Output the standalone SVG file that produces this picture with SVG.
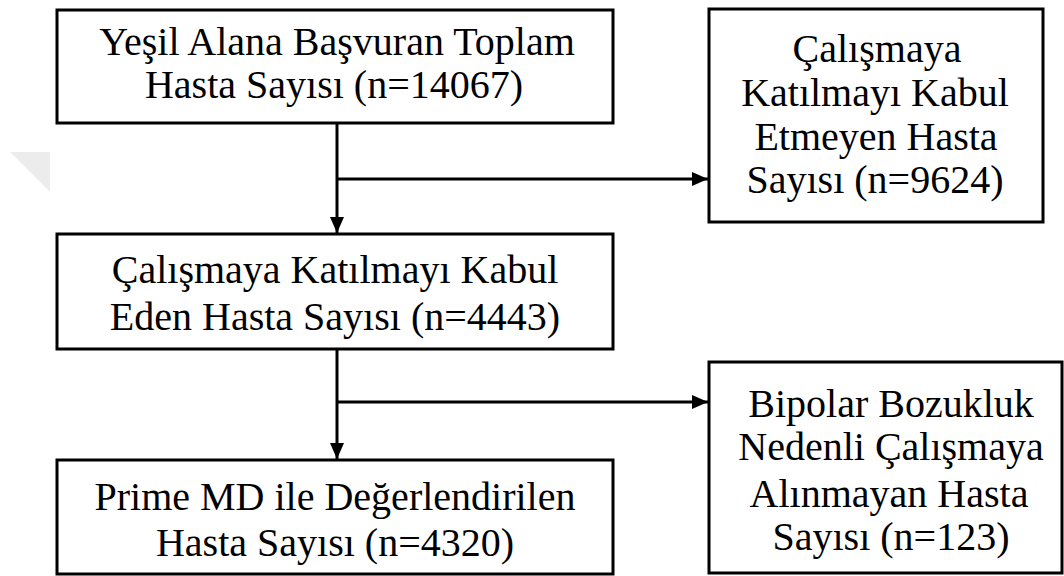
<svg xmlns="http://www.w3.org/2000/svg" width="1064" height="576" viewBox="0 0 1064 576">
  <defs>
    <marker id="arrow" viewBox="0 0 16 14" refX="16" refY="7" markerWidth="16" markerHeight="14" markerUnits="userSpaceOnUse" orient="auto">
      <path d="M0,0 L16,7 L0,14 Z" fill="#000"/>
    </marker>
    <style>
      .box { fill: #fff; stroke: #000; stroke-width: 3; }
      .conn { fill: none; stroke: #000; stroke-width: 3; }
      .lbl { font-family: 'Liberation Serif', 'DejaVu Serif', serif; font-size: 40px; fill: #000; text-anchor: middle; }
    </style>
  </defs>
  <rect width="1064" height="576" fill="#fff"/>
  <polygon points="10,152 50,152 50,192" fill="#ececec"/>

  <g id="connectors">
    <line class="conn" x1="337" y1="123" x2="337" y2="233" marker-end="url(#arrow)"/>
    <line class="conn" x1="337" y1="179" x2="708" y2="179" marker-end="url(#arrow)"/>
    <line class="conn" x1="337" y1="349" x2="337" y2="459" marker-end="url(#arrow)"/>
    <line class="conn" x1="337" y1="402" x2="708" y2="402" marker-end="url(#arrow)"/>
  </g>

  <g class="lbl" font-family="Liberation Serif, serif">
  <g id="node-total">
    <rect class="box" x="57" y="10" width="556" height="113"/>
    <text x="337" y="55">Yeşil Alana Başvuran Toplam</text>
    <text x="334" y="98">Hasta Sayısı (n=14067)</text>
  </g>
  <g id="node-accepted">
    <rect class="box" x="57" y="234" width="556" height="115"/>
    <text x="335" y="283">Çalışmaya Katılmayı Kabul</text>
    <text x="335" y="330">Eden Hasta Sayısı (n=4443)</text>
  </g>
  <g id="node-prime">
    <rect class="box" x="57" y="460" width="556" height="114"/>
    <text x="335" y="510">Prime MD ile Değerlendirilen</text>
    <text x="335" y="556">Hasta Sayısı (n=4320)</text>
  </g>
  <g id="node-refused">
    <rect class="box" x="709" y="9" width="334" height="213"/>
    <text x="877" y="62">Çalışmaya</text>
    <text x="875" y="106">Katılmayı Kabul</text>
    <text x="876" y="150">Etmeyen Hasta</text>
    <text x="875" y="193">Sayısı (n=9624)</text>
  </g>
  <g id="node-bipolar">
    <rect class="box" x="709" y="362" width="353" height="211"/>
    <text x="891" y="417">Bipolar Bozukluk</text>
    <text x="891" y="460">Nedenli Çalışmaya</text>
    <text x="889" y="507">Alınmayan Hasta</text>
    <text x="891" y="550">Sayısı (n=123)</text>
  </g>
  </g>
</svg>
